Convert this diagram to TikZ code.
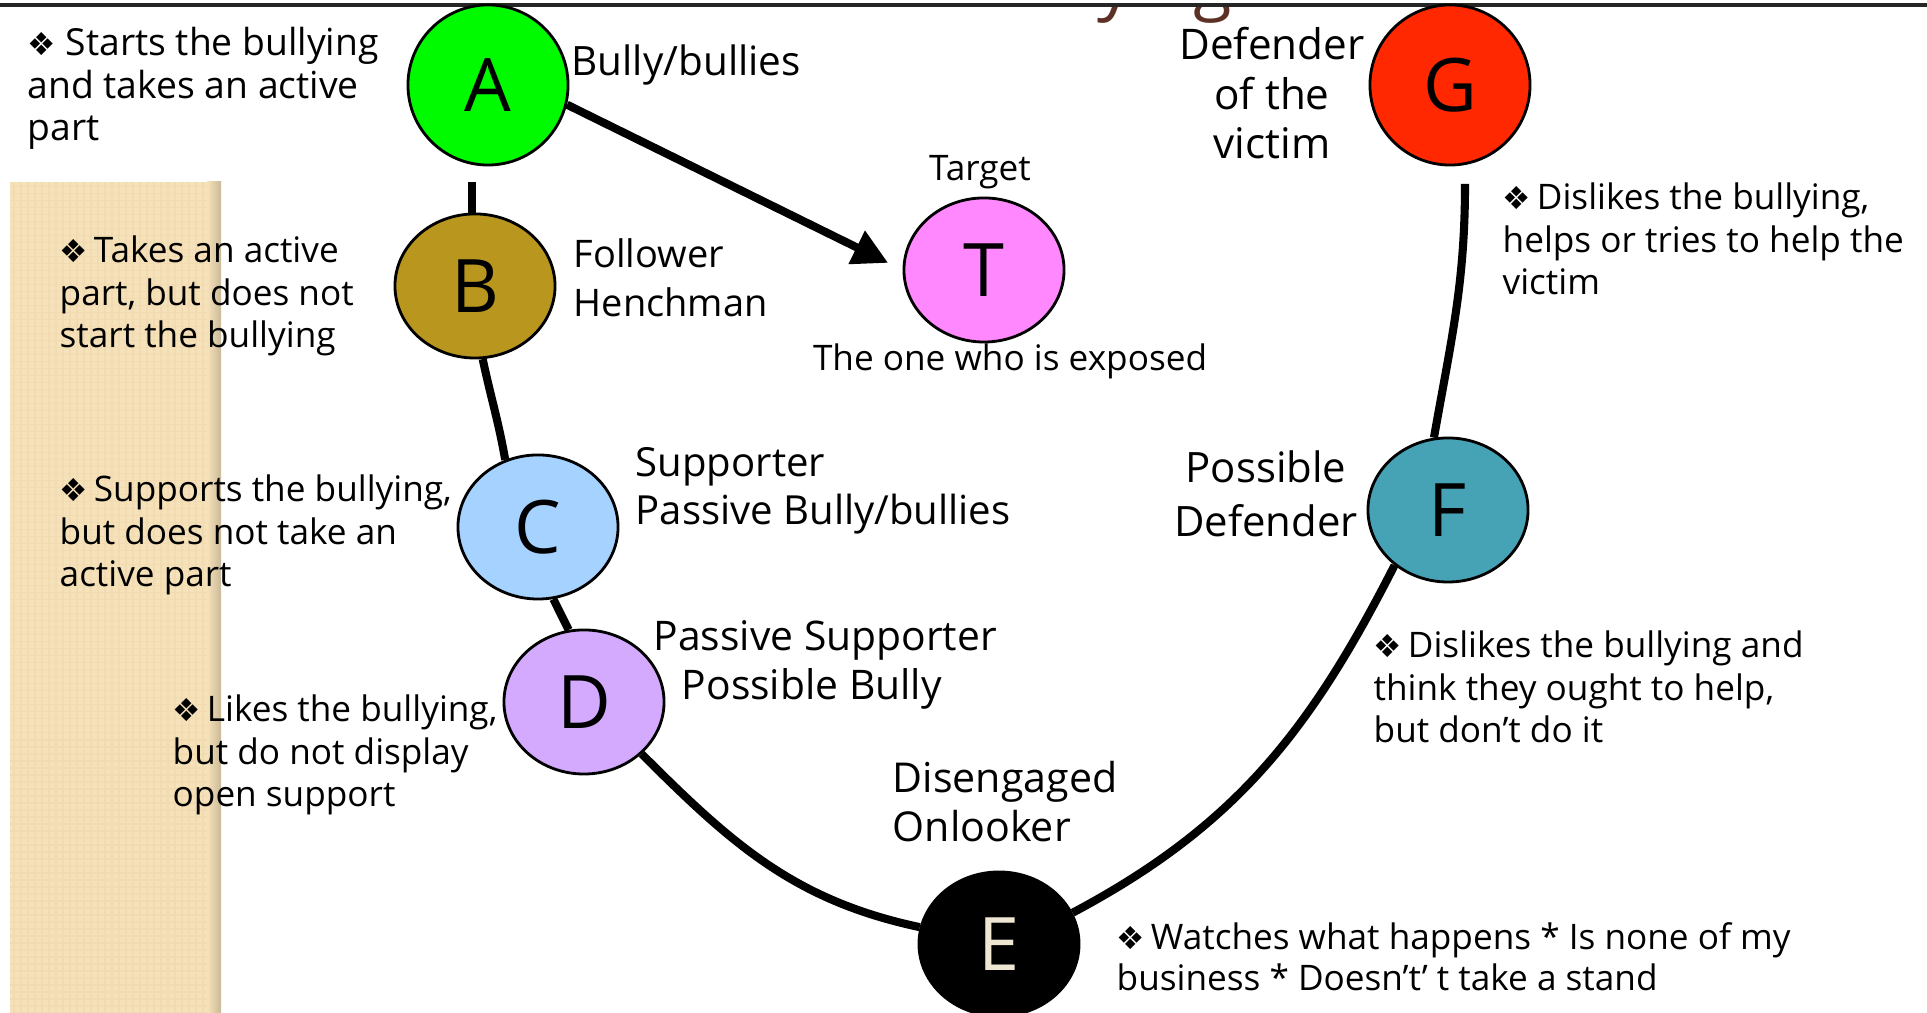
\documentclass[tikz,border=0pt]{standalone}
\usepackage{fontspec}
\setmainfont{Open Sans}
\newfontfamily\dingfont{DejaVu Sans}
\usepackage{xcolor}
\usepackage{tikz}
\usetikzlibrary{shapes.geometric,arrows.meta,positioning}

\definecolor{roleA}{RGB}{0,250,0}
\definecolor{roleB}{RGB}{185,150,30}
\definecolor{roleC}{RGB}{166,210,255}
\definecolor{roleD}{RGB}{212,170,255}
\definecolor{roleF}{RGB}{70,162,181}
\definecolor{roleG}{RGB}{255,40,0}
\definecolor{roleT}{RGB}{255,136,255}
\definecolor{letterE}{RGB}{236,230,210}
\definecolor{stripfill}{RGB}{246,226,186}
\definecolor{titlebrown}{RGB}{92,48,36}

\newcommand{\bul}{{\dingfont\fontsize{9}{9}\selectfont ❖}}

\begin{document}
\begin{tikzpicture}[x=0.01cm,y=0.01cm,
    role/.style={ellipse,draw,line width=0.8pt,minimum width=1.6cm,minimum height=1.44cm,inner sep=0pt,font=\fontsize{21}{21}\selectfont},
    tag/.style={inner sep=0pt,align=left,anchor=base west},
    note/.style={inner sep=0pt,align=left,anchor=base west,font=\fontsize{10}{12.2}\selectfont},
    link/.style={line width=2.3pt}]
    \useasboundingbox (0,0) rectangle (1927,1013);

    % Side strip
    \fill[stripfill] (10,0) rectangle (221,831);
    \draw[stripfill!93!brown,line width=0.4pt,step=0.07cm] (10,0) grid (221,831);
    \shade[left color=stripfill,right color=stripfill!82!black] (207,0) rectangle (221,831);

    % Title (cut off, only the tails show)
    \begin{scope}
        \clip (0,0) rectangle (1927,1006);
        \node[anchor=base west,inner sep=0pt,text=titlebrown,font=\fontsize{20}{20}\selectfont] (title) at (972,1006) {Bullying};
    \end{scope}
    \draw[black!85,line width=1.1pt] (0,1008) -- (1927,1008);

    % Roles
    \node[role,fill=roleA,minimum height=1.6cm] (A) at (488,928) {A};
    \node[role,fill=roleB] (B) at (475,727) {B};
    \node[role,fill=roleC] (C) at (538,486) {C};
    \node[role,fill=roleD] (D) at (584,311) {D};
    \node[role,fill=black,text=letterE] (E) at (999,69) {E};
    \node[role,fill=roleF] (F) at (1448,503) {F};
    \node[role,fill=roleG,minimum height=1.6cm] (G) at (1450,928) {G};
    \node[role,fill=roleT] (T) at (984,743) {T};

    % Links
    \coordinate (ab) at (472,831);
    \coordinate (fg) at (1465,829);
    \draw[link] (ab) -- (ab |- B.north);
    \draw[link,-{Triangle[length=10pt,width=10pt]},shorten >=0.16cm] (A.-14) -- (T.west);
    \draw[link] (B.-84) to[out=-78,in=100] (C.116);
    \draw[link] (C.-78) -- (D.102);
    \draw[link] (D.-42) to[out=-45,in=168] (E.168);
    \draw[link] (E.23) to[out=28,in=-117] (F.-134);
    \draw[link] (F.101) to[out=80,in=-90] (fg);

    % Role names (placed by the last line)
    \node[tag,font=\fontsize{11.5}{14}\selectfont] (nameA) at (571,937) {Bully/bullies};
    \node[tag,align=center,anchor=base,font=\fontsize{12}{14.2}\selectfont] (nameG) at (1272,854) {Defender\\of the\\victim};
    \node[tag,anchor=base,font=\fontsize{10}{12}\selectfont] (nameT) at (980,832) {Target};
    \node[tag,anchor=base,font=\fontsize{10}{12}\selectfont] (infoT) at (1010,642) {The one who is exposed};
    \node[tag,font=\fontsize{10.8}{14}\selectfont] (nameB) at (573,696) {Follower\\Henchman};
    \node[tag,font=\fontsize{11.4}{13.7}\selectfont] (nameC) at (635,488) {Supporter\\Passive Bully/bullies};
    \node[tag,font=\fontsize{11.6}{14.2}\selectfont] (nameD) at (653,313) {Passive Supporter\\\hspace*{8pt}Possible Bully};
    \node[tag,font=\fontsize{11.7}{14}\selectfont] (nameE) at (892,171) {Disengaged\\Onlooker};
    \node[tag,align=center,anchor=base,font=\fontsize{11.9}{15.4}\selectfont] (nameF) at (1266,476) {Possible\\Defender};

    % Descriptions
    \node[note,font=\fontsize{10.6}{12.2}\selectfont] (noteA) at (27,872) {\bul{} Starts the bullying\\and takes an active\\part};
    \node[note] (noteB) at (59,665) {\bul\,Takes an active\\part, but does not\\start the bullying};
    \node[note] (noteC) at (59,426) {\bul\,Supports the bullying,\\but does not take an\\active part};
    \node[note] (noteD) at (172,206) {\bul\,Likes the bullying,\\but do not display\\open support};
    \node[note,font=\fontsize{10}{11.7}\selectfont] (noteE) at (1116,22) {\bul\,Watches what happens * Is none of my\\business * Doesn't' t take a stand};
    \node[note] (noteF) at (1373,270) {\bul\,Dislikes the bullying and\\think they ought to help,\\but don’t do it};
    \node[note] (noteG) at (1502,718) {\bul\,Dislikes the bullying,\\helps or tries to help the\\victim};
\end{tikzpicture}
\end{document}
